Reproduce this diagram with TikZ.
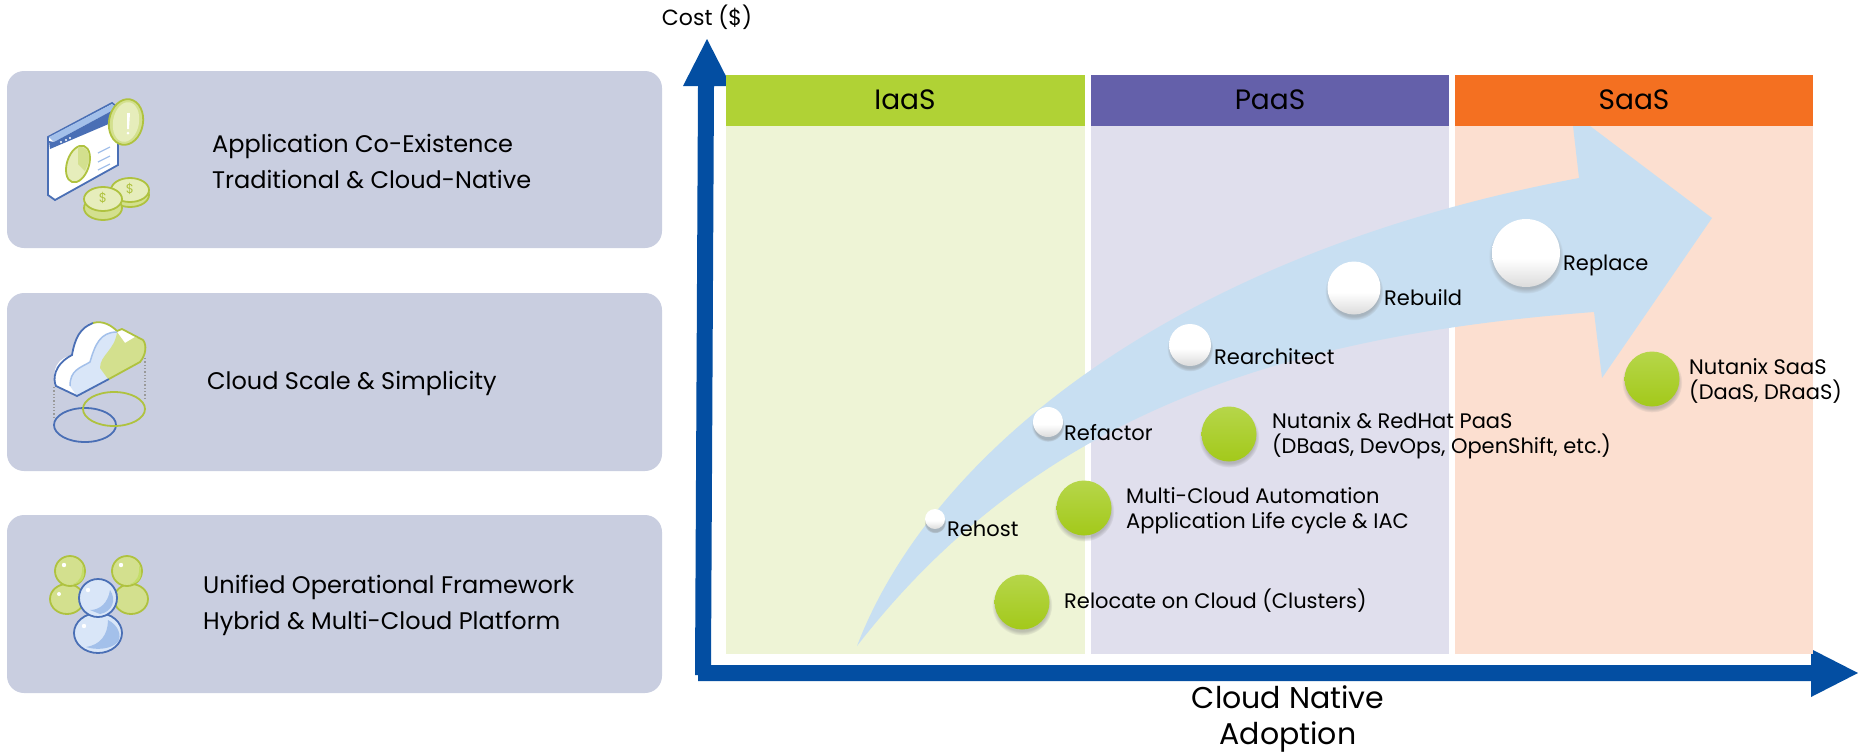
\documentclass[tikz,border=0pt]{standalone}
\usepackage{fontspec}
\setmainfont{Poppins}
\usetikzlibrary{shadows}

\definecolor{panelgray}{HTML}{C9CEE0}
\definecolor{axisblue}{HTML}{034EA2}
\definecolor{flowblue}{HTML}{C8DFF2}
\definecolor{iaasgreen}{HTML}{B0D235}
\definecolor{iaaslight}{HTML}{EEF4D6}
\definecolor{paaspurple}{HTML}{6460AA}
\definecolor{paaslight}{HTML}{E0DFED}
\definecolor{saasorange}{HTML}{F47021}
\definecolor{saaslight}{HTML}{FCDFD0}
\definecolor{iconblue}{HTML}{4A6FB5}
\definecolor{iconpale}{HTML}{D9E6F8}
\definecolor{iconmid}{HTML}{A3C0EA}
\definecolor{icongreen}{HTML}{AFC23F}
\definecolor{iconlime}{HTML}{D3E08E}
\definecolor{iconpaler}{HTML}{E6EDBB}
\definecolor{balltop}{HTML}{B6D64A}
\definecolor{ballmid}{HTML}{B5DB2D}
\definecolor{ballbottom}{HTML}{A3C91A}

\pgfdeclareverticalshading{whiteball}{100bp}{color(0bp)=(black!14); color(25bp)=(black!14); color(46bp)=(white); color(100bp)=(white)}

\tikzset{
  panel/.style={fill=panelgray, rounded corners=17pt},
  panellabel/.style={anchor=west, align=left, inner sep=0pt, font=\fontsize{24}{36}\selectfont},
  chartlabel/.style={anchor=west, align=left, inner sep=0pt, font=\fontsize{21}{25}\selectfont},
  headerlabel/.style={inner sep=0pt, font=\fontsize{28}{34}\selectfont},
  bubble/.style={circle, inner sep=0pt, minimum size=#1, circular drop shadow={shadow xshift=0pt, shadow yshift=-3pt, shadow scale=1.1, opacity=.45}},
  whitebubble/.style={bubble=#1, shading=whiteball},
  greenbubble/.style={bubble=#1, top color=balltop, middle color=ballmid, bottom color=ballbottom},
  iconline/.style={line width=1.8pt, draw=iconblue},
  greenline/.style={line width=1.8pt, draw=icongreen},
  coinlabel/.style={inner sep=0pt, text=icongreen, font=\fontsize{13}{13}\selectfont}
}

\begin{document}
\begin{tikzpicture}[x=1pt, y=-1pt]
  \useasboundingbox (0, 0) rectangle (1858, 753);

  \fill[panel] (7, 71) rectangle (662, 248);
  \fill[panel] (7, 293) rectangle (662, 471);
  \fill[panel] (7, 515) rectangle (662, 693);

  \node[panellabel] (coexist) at (212, 162) {Application Co-Existence\\Traditional \& Cloud-Native};
  \node[panellabel] (scale) at (207, 383) {Cloud Scale \& Simplicity};
  \node[panellabel] (unified) at (203, 605) {Unified Operational Framework\\Hybrid \& Multi-Cloud Platform};

  % window and coins
  \draw[iconline, fill=white] (48, 137) -- (112, 103) -- (118, 108) -- (118, 165) -- (55, 200) -- (48, 195) -- cycle;
  \fill[iconmid] (49, 137) -- (112, 104) -- (117, 108) -- (54, 142) -- cycle;
  \fill[iconblue] (54, 142) -- (117, 108) -- (118, 120) -- (50, 149) -- (49, 141) -- cycle;
  \fill[white] (61, 142) circle (1.2);
  \fill[white] (66, 140) circle (1.2);
  \fill[white] (70, 138) circle (1.2);
  \draw[iconmid, line width=1.3pt] (98, 153) -- (110, 147);
  \draw[iconmid, line width=1.3pt] (98, 162) -- (110, 156);
  \draw[iconmid, line width=1.3pt] (98, 170) -- (110, 164);
  \draw[greenline, fill=iconpaler] (78, 164) ellipse [x radius=11, y radius=19, rotate=-18];
  \fill[iconlime] (78, 164) -- (78, 147) .. controls (86, 146) and (90, 152) .. (89, 161) -- (85, 171) -- cycle;
  \draw[greenline, fill=iconlime] (126, 122) ellipse [x radius=17, y radius=23, rotate=-10];
  \fill[iconpaler] (126, 122) ellipse [x radius=13, y radius=20, rotate=-10];
  \fill[white] (127, 113) -- (130, 113) -- (129, 129) -- (127, 129) -- cycle;
  \fill[white] (128, 133) circle (1.5);
  \draw[greenline, fill=iconlime] (130, 195) ellipse [x radius=19, y radius=12];
  \draw[greenline, fill=iconpaler] (130, 190) ellipse [x radius=19, y radius=12];
  \node[coinlabel] (coinone) at (130, 189) {\$};
  \draw[greenline, fill=iconlime] (103, 208) ellipse [x radius=19, y radius=12];
  \draw[greenline, fill=iconpaler] (103, 199) ellipse [x radius=19, y radius=12];
  \node[coinlabel] (cointwo) at (103, 198) {\$};

  % cloud and footprints
  \draw[black!40, dotted, line width=1.3pt] (54, 387) -- (54, 417);
  \draw[black!40, dotted, line width=1.3pt] (145, 358) -- (145, 400);
  \fill[white] (54, 378) .. controls (54, 365) and (60, 358) .. (72, 355) .. controls (75, 338) and (82, 322) .. (98, 322) .. controls (105, 322) and (112, 326) .. (117, 331) -- (122, 329) -- (143, 340) .. controls (147, 345) and (146, 355) .. (140, 362) -- (77, 396) -- (56, 386) -- cycle;
  \fill[iconpale] (70, 386) .. controls (70, 370) and (80, 368) .. (90, 362) .. controls (95, 345) and (100, 332) .. (117, 332) -- (125, 345) -- (143, 340) .. controls (147, 345) and (146, 355) .. (140, 362) -- (77, 396) -- cycle;
  \fill[iconlime] (100, 368) .. controls (100, 355) and (115, 350) .. (117, 332) -- (125, 343) -- (135, 337) -- (143, 340) .. controls (147, 345) and (146, 355) .. (140, 362) -- (108, 379) -- cycle;
  \draw[iconline] (109, 379) -- (77, 396) -- (56, 386) .. controls (53, 380) and (53, 365) .. (72, 355) .. controls (75, 338) and (80, 328) .. (93, 323);
  \draw[greenline] (93, 323) .. controls (103, 320) and (112, 326) .. (117, 331) -- (122, 329) -- (143, 340) .. controls (147, 345) and (146, 355) .. (140, 362) -- (109, 379);
  \draw[iconmid, line width=1.5pt] (70, 386) .. controls (70, 370) and (80, 368) .. (90, 362) .. controls (95, 345) and (100, 332) .. (117, 332);
  \draw[iconline] (85, 425) ellipse [x radius=31, y radius=17];
  \draw[greenline] (114, 409) ellipse [x radius=31, y radius=17];

  % people
  \draw[greenline, fill=iconlime] (67, 599) ellipse [x radius=17, y radius=15];
  \draw[greenline, fill=iconlime] (131, 599) ellipse [x radius=17, y radius=15];
  \draw[greenline, fill=iconlime] (70, 571) circle (15);
  \draw[greenline, fill=iconlime] (127, 571) circle (15);
  \fill[iaasgreen!75!white] (73, 584) .. controls (80, 582) and (83, 575) .. (82, 565) .. controls (87, 575) and (83, 584) .. (73, 584) -- cycle;
  \fill[iaasgreen!75!white] (130, 584) .. controls (137, 582) and (140, 575) .. (139, 565) .. controls (144, 575) and (140, 584) .. (130, 584) -- cycle;
  \fill[white] (64, 565) circle (2.2);
  \fill[white] (121, 565) circle (2.2);
  \fill[white] (59, 594) circle (2);
  \draw[iconline, fill=iconpale] (98, 633) ellipse [x radius=24, y radius=20];
  \fill[iconmid] (86, 647) .. controls (100, 645) and (108, 635) .. (108, 620) .. controls (118, 625) and (122, 635) .. (118, 642) .. controls (110, 650) and (95, 650) .. (86, 647) -- cycle;
  \fill[white] (84, 626) circle (2.2);
  \draw[iconline, fill=iconpale] (98, 598) circle (19);
  \fill[iconmid] (90, 610) .. controls (100, 610) and (108, 603) .. (110, 590) .. controls (117, 600) and (112, 612) .. (100, 614) -- cycle;
  \fill[white] (88, 590) circle (2.2);

  % axes
  \fill[axisblue] (695, 675) -- (698, 86) -- (683, 86) -- (707, 39) -- (731, 86) -- (714, 86) -- (711, 665) -- (1811, 665) -- (1811, 649) -- (1858, 673) -- (1811, 697) -- (1811, 681) -- (698, 681) -- (698, 675) -- cycle;

  \fill[iaaslight] (726, 126) rectangle (1085, 654);
  \fill[paaslight] (1091, 126) rectangle (1449, 654);
  \fill[saaslight] (1455, 126) rectangle (1813, 654);

  % growth arrow
  \fill[flowblue] (857, 646) .. controls (930, 455) and (1170, 255) .. (1579, 178) -- (1573, 126) -- (1590, 126) -- (1712, 218) -- (1602, 378) -- (1594, 312) .. controls (1290, 335) and (1040, 410) .. (857, 646) -- cycle;

  \fill[iaasgreen] (726, 75) rectangle (1085, 126);
  \fill[paaspurple] (1091, 75) rectangle (1449, 126);
  \fill[saasorange] (1455, 75) rectangle (1813, 126);

  \node[headerlabel] (iaas) at (905, 100) {IaaS};
  \node[headerlabel] (paas) at (1270, 100) {PaaS};
  \node[headerlabel] (saas) at (1634, 100) {SaaS};

  \node[whitebubble=20pt] (rehost) at (935, 519) {};
  \node[whitebubble=30pt] (refactor) at (1048, 422) {};
  \node[whitebubble=42pt] (rearchitect) at (1190, 345) {};
  \node[whitebubble=53pt] (rebuild) at (1354, 288) {};
  \node[whitebubble=68pt] (replace) at (1526, 253) {};

  \node[greenbubble=55pt] (relocate) at (1022, 602) {};
  \node[greenbubble=55pt] (multicloud) at (1084, 508) {};
  \node[greenbubble=55pt] (redhat) at (1229, 434) {};
  \node[greenbubble=55pt] (nutanix) at (1652, 379) {};

  \node[chartlabel] (rehostlabel) at (947, 529) {Rehost};
  \node[chartlabel] (refactorlabel) at (1064, 433) {Refactor};
  \node[chartlabel] (rearchitectlabel) at (1214, 357) {Rearchitect};
  \node[chartlabel] (rebuildlabel) at (1384, 298) {Rebuild};
  \node[chartlabel] (replacelabel) at (1563, 265) {Replace};
  \node[chartlabel] (relocatelabel) at (1064, 601) {Relocate on Cloud (Clusters)};
  \node[chartlabel] (multilabel) at (1126, 511) {Multi-Cloud Automation\\Application Life cycle \& IAC};
  \node[chartlabel] (redhatlabel) at (1272, 436) {Nutanix \& RedHat PaaS\\(DBaaS, DevOps, OpenShift, etc.)};
  \node[chartlabel] (nutanixlabel) at (1689, 381) {Nutanix SaaS\\(DaaS, DRaaS)};

  \node[inner sep=0pt, font=\fontsize{22}{28}\selectfont] (costlabel) at (707, 17) {Cost (\$)};
  \node[headerlabel, align=center, font=\fontsize{30}{36}\selectfont] (adoptionlabel) at (1288, 719) {Cloud Native\\Adoption};
\end{tikzpicture}
\end{document}
